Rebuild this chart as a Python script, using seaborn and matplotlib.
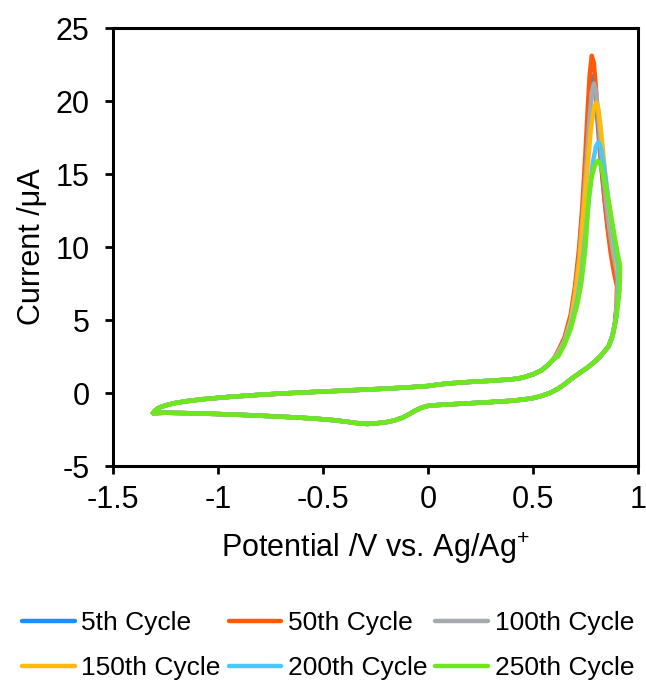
import numpy as np
import pandas as pd
import matplotlib
matplotlib.use("Agg")
import matplotlib.pyplot as plt
import seaborn as sns

# ---- data ----
cycles = ["5th Cycle", "50th Cycle", "100th Cycle", "150th Cycle", "200th Cycle", "250th Cycle"]
colors = ["#1E8EFF", "#FF5A0A", "#A6AAAE", "#FFBA0A", "#4CC8F8", "#6EE81C"]

# anodic (forward) sweep, shared part
anodic_E = [-1.31, -1.30, -1.28, -1.25, -1.21, -1.15, -1.07, -0.95, -0.80, -0.65, -0.50, -0.35,
            -0.20, -0.08, 0.0, 0.06, 0.12, 0.20, 0.30, 0.40, 0.45, 0.50, 0.54, 0.57, 0.60]
anodic_I = [-1.38, -1.20, -1.00, -0.85, -0.70, -0.56, -0.42, -0.27, -0.12, 0.0, 0.10, 0.20,
            0.30, 0.40, 0.48, 0.60, 0.68, 0.76, 0.84, 0.94, 1.05, 1.28, 1.55, 1.90, 2.35]

# cathodic (reverse) sweep, shared part
cathodic_E = [0.86, 0.84, 0.82, 0.79, 0.76, 0.72, 0.69, 0.65, 0.62, 0.58, 0.54, 0.50, 0.45, 0.40,
              0.30, 0.20, 0.10, 0.05, 0.0, -0.03, -0.06, -0.09, -0.12, -0.16, -0.20, -0.25, -0.29,
              -0.33, -0.38, -0.45, -0.55, -0.70, -0.85, -1.00, -1.15, -1.25, -1.31]
cathodic_I = [3.2, 2.85, 2.5, 2.1, 1.75, 1.35, 1.05, 0.6, 0.3, 0.0, -0.2, -0.35, -0.45, -0.53,
              -0.62, -0.70, -0.78, -0.82, -0.88, -1.0, -1.2, -1.45, -1.68, -1.88, -2.0, -2.08, -2.12,
              -2.08, -1.98, -1.86, -1.74, -1.62, -1.52, -1.44, -1.38, -1.35, -1.38]

# oxidation peak region for each cycle
peak_E_5 = [0.62, 0.65, 0.68, 0.70, 0.72, 0.74, 0.755, 0.765, 0.775, 0.784, 0.793, 0.803, 0.815,
            0.83, 0.845, 0.86, 0.875, 0.89, 0.902, 0.90, 0.892, 0.878]
peak_I_5 = [2.8, 3.7, 5.2, 7.0, 9.6, 13.3, 16.8, 19.3, 21.0, 21.7, 21.2, 19.5, 17.2,
            14.8, 12.7, 10.9, 9.5, 8.4, 7.6, 6.2, 4.9, 3.9]
peak_E_50 = [0.62, 0.65, 0.68, 0.70, 0.72, 0.735, 0.75, 0.76, 0.77, 0.78, 0.79, 0.80, 0.81,
             0.825, 0.84, 0.855, 0.87, 0.885, 0.90, 0.898, 0.89, 0.878]
peak_I_50 = [2.9, 3.8, 5.4, 7.3, 10.0, 12.8, 16.5, 19.3, 21.8, 23.1, 22.6, 20.8, 18.6,
             15.8, 13.4, 11.3, 9.6, 8.3, 7.3, 6.0, 4.8, 3.9]
peak_E_100 = [0.62, 0.65, 0.68, 0.70, 0.72, 0.74, 0.755, 0.768, 0.78, 0.79, 0.80, 0.81, 0.822,
              0.835, 0.85, 0.865, 0.88, 0.893, 0.904, 0.902, 0.893, 0.878]
peak_I_100 = [2.8, 3.6, 5.0, 6.8, 9.2, 12.7, 15.8, 18.6, 20.6, 21.2, 20.7, 19.2, 17.0,
              14.9, 12.8, 11.1, 9.7, 8.7, 7.8, 6.3, 4.9, 3.9]
peak_E_150 = [0.62, 0.65, 0.68, 0.70, 0.72, 0.74, 0.76, 0.775, 0.79, 0.801, 0.812, 0.822, 0.835,
              0.85, 0.865, 0.88, 0.895, 0.906, 0.904, 0.895, 0.878]
peak_I_150 = [2.7, 3.5, 4.9, 6.6, 8.9, 12.2, 15.5, 18.0, 19.5, 19.9, 19.4, 18.2, 16.3,
              14.2, 12.3, 10.7, 9.3, 8.2, 6.5, 5.0, 3.9]
peak_E_200 = [0.62, 0.65, 0.68, 0.71, 0.73, 0.75, 0.77, 0.785, 0.80, 0.812, 0.823, 0.835, 0.85,
              0.865, 0.88, 0.895, 0.908, 0.906, 0.897, 0.878]
peak_I_200 = [2.6, 3.4, 4.6, 6.3, 8.0, 10.8, 13.9, 15.8, 16.9, 17.2, 16.8, 15.8, 14.2,
              12.6, 11.0, 9.6, 8.6, 6.8, 5.2, 3.9]
peak_E_250 = [0.62, 0.65, 0.68, 0.71, 0.73, 0.75, 0.765, 0.78, 0.795, 0.808, 0.818, 0.83, 0.845,
              0.86, 0.875, 0.89, 0.905, 0.915, 0.912, 0.90, 0.88]
peak_I_250 = [2.5, 3.3, 4.4, 6.0, 7.5, 10.0, 13.3, 14.8, 15.6, 15.9, 15.8, 15.2, 14.2,
              13.2, 11.9, 10.6, 9.4, 8.7, 7.0, 5.5, 3.9]

peaks_E = [peak_E_5, peak_E_50, peak_E_100, peak_E_150, peak_E_200, peak_E_250]
peaks_I = [peak_I_5, peak_I_50, peak_I_100, peak_I_150, peak_I_200, peak_I_250]

x_ticks = [-1.5, -1.0, -0.5, 0.0, 0.5, 1.0]
x_ticklabels = ["-1.5", "-1", "-0.5", "0", "0.5", "1"]
y_ticks = [-5, 0, 5, 10, 15, 20, 25]
y_ticklabels = ["-5", "0", "5", "10", "15", "20", "25"]

# ---- build long-form table ----
frames = []
for name, pe, pi in zip(cycles, peaks_E, peaks_I):
    E = anodic_E + pe + cathodic_E
    I = anodic_I + pi + cathodic_I
    frames.append(pd.DataFrame({"E": E, "I": I, "Cycle": name, "step": range(len(E))}))
df = pd.concat(frames, ignore_index=True)

sns.set_theme(style="white")
plt.rcParams["font.family"] = ["Liberation Sans", "DejaVu Sans"]
plt.rcParams["mathtext.default"] = "regular"
plt.rcParams["axes.unicode_minus"] = False
plt.rcParams["text.color"] = "black"

fig = plt.figure(figsize=(6.46, 6.80), dpi=100)
ax = fig.add_axes([0.175, 0.3147, 0.8126, 0.6441])

sns.lineplot(data=df, x="E", y="I", hue="Cycle", hue_order=cycles,
             palette=dict(zip(cycles, colors)), sort=False, estimator=None,
             units="Cycle", linewidth=3.2, ax=ax, legend=True)

ax.set_xlim(-1.5, 1.0)
ax.set_ylim(-5, 25)
ax.set_xticks(x_ticks)
ax.set_xticklabels(x_ticklabels)
ax.set_yticks(y_ticks)
ax.set_yticklabels(y_ticklabels)
ax.tick_params(axis="both", direction="out", length=6, width=2, labelsize=22,
               color="black", labelcolor="black", bottom=True, left=True, pad=8)
ax.tick_params(axis="y", pad=11)
for s in ax.spines.values():
    s.set_visible(True)
    s.set_color("black")
    s.set_linewidth(2.2)

ax.set_xlabel("Potential /V vs. Ag/Ag$^{+}$", fontsize=22, color="black", labelpad=11)
ax.set_ylabel("Current /\u03bcA", fontsize=22, color="black", labelpad=6)

handles, labels = ax.get_legend_handles_labels()
ax.get_legend().remove()
hmap = dict(zip(labels, handles))
order = ["5th Cycle", "150th Cycle", "50th Cycle", "200th Cycle", "100th Cycle", "250th Cycle"]
leg = fig.legend([hmap[o] for o in order], order, loc="center", bbox_to_anchor=(0.508, 0.0505),
                 ncol=3, frameon=False, fontsize=19, handlelength=2.0, handletextpad=0.25,
                 columnspacing=0.3, labelspacing=0.8)
for t in leg.get_texts():
    t.set_color("black")
for h in leg.legend_handles:
    h.set_linewidth(3.2)

fig.savefig("out.png", dpi=100)
